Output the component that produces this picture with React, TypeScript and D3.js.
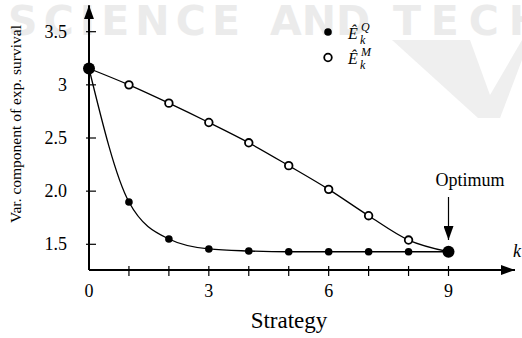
import { useEffect, useRef } from 'react';
import * as d3 from 'd3';

const strategies = [0, 1, 2, 3, 4, 5, 6, 7, 8, 9];
const seriesQ = [3.154, 1.898, 1.55, 1.456, 1.437, 1.43, 1.43, 1.43, 1.43, 1.43];
const seriesM = [3.154, 3.0, 2.828, 2.646, 2.455, 2.24, 2.017, 1.769, 1.54, 1.43];
const xTickLabels = [0, 3, 6, 9];
const yTicks = [1.5, 2.0, 2.5, 3, 3.5];
const yTickLabels = ['1.5', '2.0', '2.5', '3', '3.5'];

const W = 522;
const H = 338;
const serif = '"Liberation Serif", "Times New Roman", serif';

const Chart = () => {
  const ref = useRef<SVGSVGElement>(null);

  useEffect(() => {
    const svg = d3.select(ref.current);
    svg.selectAll('*').remove();

    const x = d3.scaleLinear().domain([0, 9]).range([89, 448.5]);
    const y = d3.scaleLinear().domain([1.5, 3.5]).range([244.3, 31.7]);
    const yBase = y(1.258);

    // watermark
    const wm = svg.append('g').attr('fill', '#ebebeb').attr('font-family', '"DejaVu Sans", sans-serif')
      .attr('font-weight', 'bold').attr('font-size', 41);
    wm.append('text').attr('x', 8).attr('y', 35).attr('textLength', 232).text('SCIENCE');
    wm.append('text').attr('x', 270).attr('y', 35).attr('textLength', 100).text('AND');
    wm.append('text').attr('x', 393).attr('y', 35).attr('textLength', 150).text('TECH');
    wm.append('path').attr('d', 'M392,40 L470,40 L490,95 L522,40 L522,60 L500,118 L478,118 Z').attr('opacity', 0.8);

    svg.append('defs').append('marker').attr('id', 'ah').attr('viewBox', '0 0 10 10')
      .attr('refX', 10).attr('refY', 5).attr('markerWidth', 14).attr('markerHeight', 10)
      .attr('markerUnits', 'userSpaceOnUse').attr('orient', 'auto').attr('preserveAspectRatio', 'none')
      .append('path').attr('d', 'M0,0 L10,5 L0,10 Z').attr('fill', '#000');

    // axes
    svg.append('line').attr('x1', x(0)).attr('x2', 515).attr('y1', yBase).attr('y2', yBase)
      .attr('stroke', '#000').attr('stroke-width', 2).attr('marker-end', 'url(#ah)');
    svg.append('line').attr('x1', x(0)).attr('x2', x(0)).attr('y1', yBase).attr('y2', y(3.75))
      .attr('stroke', '#000').attr('stroke-width', 2).attr('marker-end', 'url(#ah)');

    svg.append('g').selectAll('line').data(strategies.slice(1)).join('line')
      .attr('x1', (d) => x(d)).attr('x2', (d) => x(d)).attr('y1', yBase - 4).attr('y2', yBase + 6)
      .attr('stroke', '#000').attr('stroke-width', 1.2);
    svg.append('g').selectAll('line').data(yTicks).join('line')
      .attr('x1', x(0) - 3).attr('x2', x(0) + 7).attr('y1', (d) => y(d)).attr('y2', (d) => y(d))
      .attr('stroke', '#000').attr('stroke-width', 1.2);

    svg.append('g').selectAll('text').data(xTickLabels).join('text')
      .attr('x', (d) => x(d)).attr('y', yBase + 27).attr('text-anchor', 'middle')
      .attr('font-family', serif).attr('font-size', 18).text((d) => d);
    svg.append('g').selectAll('text').data(yTicks).join('text')
      .attr('x', 67).attr('y', (d) => y(d) + 6).attr('text-anchor', 'end')
      .attr('font-family', serif).attr('font-size', 18).text((_, i) => yTickLabels[i]);

    svg.append('text').attr('transform', 'translate(21,124) rotate(-90)').attr('text-anchor', 'middle')
      .attr('font-family', serif).attr('font-size', 15.5).text('Var. component of exp. survival');
    svg.append('text').attr('x', 289).attr('y', 328).attr('text-anchor', 'middle')
      .attr('font-family', serif).attr('font-size', 23).text('Strategy');
    svg.append('text').attr('x', 513).attr('y', 257).attr('font-family', serif).attr('font-style', 'italic')
      .attr('font-size', 18).text('k');

    // lines
    const line = d3.line<number>().x((_, i) => x(strategies[i])).y((d) => y(d)).curve(d3.curveMonotoneX);
    svg.append('path').attr('d', line(seriesM)).attr('fill', 'none').attr('stroke', '#000').attr('stroke-width', 1.3);
    svg.append('path').attr('d', line(seriesQ)).attr('fill', 'none').attr('stroke', '#000').attr('stroke-width', 1.3);

    svg.append('g').selectAll('circle').data(seriesM.slice(1, 9)).join('circle')
      .attr('cx', (_, i) => x(strategies[i + 1])).attr('cy', (d) => y(d)).attr('r', 3.8)
      .attr('fill', '#fff').attr('stroke', '#000').attr('stroke-width', 1.8);
    svg.append('g').selectAll('circle').data(seriesQ.slice(1, 9)).join('circle')
      .attr('cx', (_, i) => x(strategies[i + 1])).attr('cy', (d) => y(d)).attr('r', 3.8).attr('fill', '#000');
    svg.append('g').selectAll('circle').data([0, 9]).join('circle')
      .attr('cx', (d) => x(d)).attr('cy', (d) => y(seriesQ[d])).attr('r', 6).attr('fill', '#000');

    // optimum annotation
    svg.append('text').attr('x', 470).attr('y', 186).attr('text-anchor', 'middle')
      .attr('font-family', serif).attr('font-size', 18).text('Optimum');
    svg.append('line').attr('x1', x(9)).attr('x2', x(9)).attr('y1', 197).attr('y2', 240)
      .attr('stroke', '#000').attr('stroke-width', 1.2).attr('marker-end', 'url(#ah)');

    // legend
    const lg = svg.append('g');
    lg.append('circle').attr('cx', 328).attr('cy', 32).attr('r', 3.8).attr('fill', '#000');
    lg.append('circle').attr('cx', 328).attr('cy', 57.5).attr('r', 3.8).attr('fill', '#fff')
      .attr('stroke', '#000').attr('stroke-width', 1.8);
    const labels = [['Q', 39], ['M', 64]] as const;
    labels.forEach(([s, yy]) => {
      lg.append('text').attr('x', 348).attr('y', yy).attr('font-family', serif)
        .attr('font-style', 'italic').attr('font-size', 16).text('\u00CA');
      lg.append('text').attr('x', 360).attr('y', yy + 5).attr('font-family', serif)
        .attr('font-style', 'italic').attr('font-size', 12).text('k');
      lg.append('text').attr('x', 361).attr('y', yy - 8).attr('font-family', serif)
        .attr('font-style', 'italic').attr('font-size', 12).text(s);
    });
  }, []);

  return <svg ref={ref} width={W} height={H} style={{ display: 'block' }}></svg>;
};

export default function App() {
  return (
    <div style={{ position: 'absolute', left: 0, top: 0, background: '#fff' }}>
      <Chart />
    </div>
  );
}
